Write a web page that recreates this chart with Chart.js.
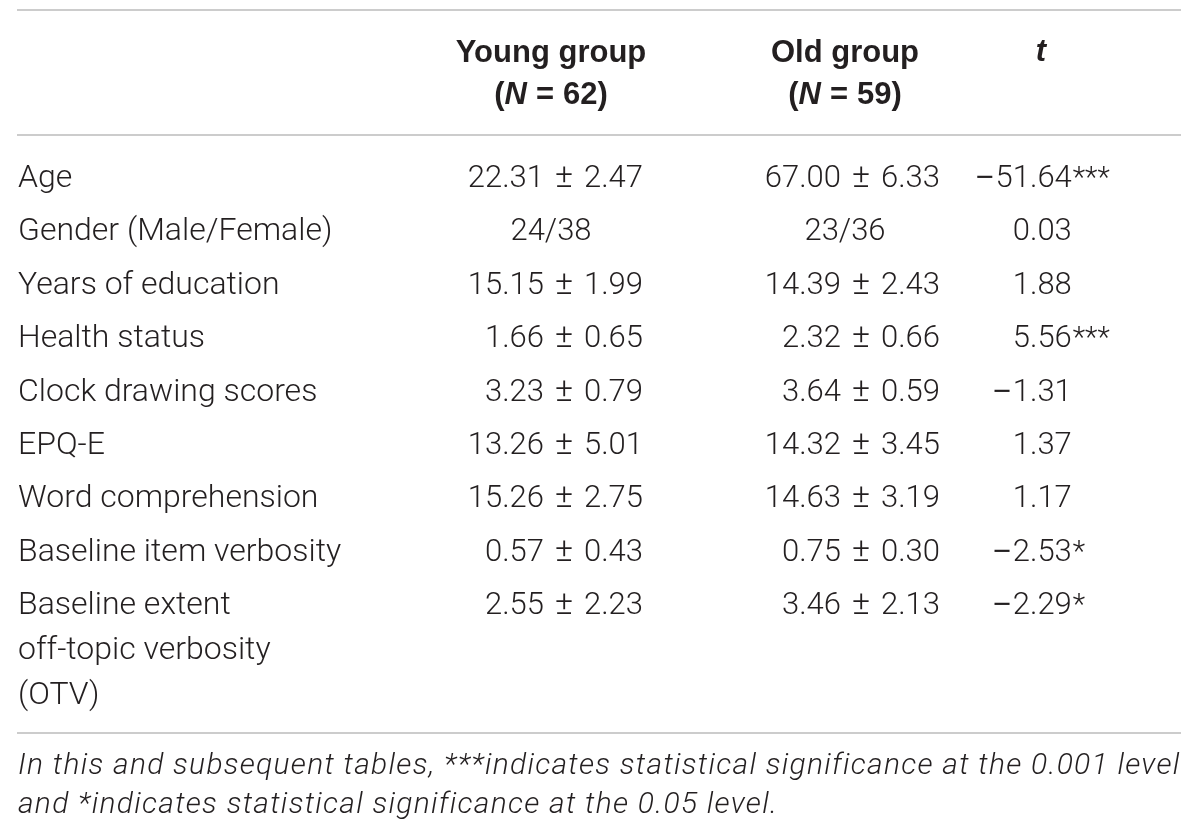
<!DOCTYPE html>
<html lang="en">
<head>
  <meta charset="UTF-8">
  <title>Young vs old group characteristics</title>
  <script src="https://cdn.jsdelivr.net/npm/chart.js"></script>
  <style>
    html, body { margin: 0; padding: 0; background: #fff; }
    #chart-container { width: 1200px; height: 836px; }
  </style>
</head>
<body>
  <div id="chart-container">
    <canvas id="myChart" width="1200" height="836"></canvas>
  </div>

  <script>
  // Table contents
  const variables = [
    'Age',
    'Gender (Male/Female)',
    'Years of education',
    'Health status',
    'Clock drawing scores',
    'EPQ-E',
    'Word comprehension',
    'Baseline item verbosity',
    ['Baseline extent', 'off-topic verbosity', '(OTV)']
  ];
  const youngGroup = ['22.31 ± 2.47', '24/38', '15.15 ± 1.99', '1.66 ± 0.65', '3.23 ± 0.79',
                      '13.26 ± 5.01', '15.26 ± 2.75', '0.57 ± 0.43', '2.55 ± 2.23'];
  const oldGroup = ['67.00 ± 6.33', '23/36', '14.39 ± 2.43', '2.32 ± 0.66', '3.64 ± 0.59',
                    '14.32 ± 3.45', '14.63 ± 3.19', '0.75 ± 0.30', '3.46 ± 2.13'];
  const tValues = ['−51.64', '0.03', '1.88', '5.56', '−1.31', '1.37', '1.17', '−2.53', '−2.29'];
  const tStars = ['***', '', '', '***', '', '', '', '*', '*'];
  const headYoung = ['Young group', 'N', '62'];
  const headOld = ['Old group', 'N', '59'];
  const headT = 't';
  const footnote = [
    'In this and subsequent tables, ***indicates statistical significance at the 0.001 level',
    'and *indicates statistical significance at the 0.05 level.'
  ];

  const textColor = '#231f20';
  const ruleColor = '#cccccc';
  const labelFont = '300 32px Roboto';
  const valueFont = '300 31px Roboto';
  const pmFont = '300 34px Roboto';
  const minusFont = '31px "Liberation Sans"';
  const starFont = '300 29px Roboto';
  const boldFont = 'bold 31px "Liberation Sans"';
  const boldItalic = 'italic bold 31px "Liberation Sans"';
  const noteFont = 'italic 300 30px Roboto';

  // draws the table cells at the row positions given by the y scale
  const tablePlugin = {
    id: 'tableText',
    afterDraw(chart, args, opts) {
      const ctx = chart.ctx;
      const y = chart.scales.y;
      const area = chart.chartArea;
      const col = opts.columns;
      ctx.save();
      ctx.fillStyle = textColor;
      ctx.textBaseline = 'alphabetic';
      ctx.textAlign = 'left';

      // rules
      ctx.strokeStyle = ruleColor;
      ctx.lineWidth = 2;
      [area.top - 177, area.top - 52, area.bottom + 119].forEach(ry => {
        ctx.beginPath();
        ctx.moveTo(opts.left, ry);
        ctx.lineTo(opts.right, ry);
        ctx.stroke();
      });

      // header: two lines, "(N = xx)" with italic N
      function headCell(parts, cx) {
        ctx.font = boldFont;
        ctx.textAlign = 'center';
        ctx.fillText(parts[0], cx, area.top - 125);
        ctx.textAlign = 'left';
        const pieces = [['(', boldFont], [parts[1], boldItalic], ['=', boldFont], [parts[2] + ')', boldFont]];
        const gap = opts.eqGap;
        const widths = pieces.map(([s, f]) => { ctx.font = f; return ctx.measureText(s).width; });
        const total = widths.reduce((a, b) => a + b, 0) + 2 * gap;
        let x0 = cx - total / 2;
        const by = area.top - 83;
        pieces.forEach(([s, f], k) => {
          ctx.font = f;
          ctx.fillText(s, x0, by);
          x0 += widths[k] + (k === 1 || k === 2 ? gap : 0);
        });
      }
      headCell(headYoung, col.youngCenter);
      headCell(headOld, col.oldCenter);
      ctx.font = boldItalic;
      ctx.textAlign = 'center';
      ctx.fillText(headT, col.tCenter, area.top - 126);
      ctx.textAlign = 'left';

      // "a ± b" drawn right-aligned, with a bigger ± and some room round it
      function pmCell(v, right, py) {
        const [a, b] = v.split(' ± ');
        ctx.font = valueFont;
        const wa = ctx.measureText(a).width;
        const wb = ctx.measureText(b).width;
        ctx.font = pmFont;
        const wp = ctx.measureText('±').width;
        let x0 = right - (wa + wp + wb + 2 * opts.pmGap);
        ctx.font = valueFont;
        ctx.fillText(a, x0, py);
        x0 += wa + opts.pmGap;
        ctx.font = pmFont;
        ctx.fillText('±', x0, py);
        x0 += wp + opts.pmGap;
        ctx.font = valueFont;
        ctx.fillText(b, x0, py);
      }

      variables.forEach((label, i) => {
        const py = y.getPixelForValue(i);
        const lines = Array.isArray(label) ? label : [label];
        ctx.font = labelFont;
        lines.forEach((ln, k) => ctx.fillText(ln, opts.left + 1, py + k * opts.wrapLine));

        [[youngGroup[i], col.youngCenter, col.youngRight], [oldGroup[i], col.oldCenter, col.oldRight]]
          .forEach(([v, c, r]) => {
            if (v.indexOf(' ± ') >= 0) {
              pmCell(v, r, py);
            } else {
              ctx.font = valueFont;
              ctx.textAlign = 'center';
              ctx.fillText(v, c, py);
              ctx.textAlign = 'left';
            }
          });

        // t: aligned on the decimal point, minus sign in front
        ctx.font = valueFont;
        const tv = tValues[i];
        const neg = tv[0] === '−';
        const num = neg ? tv.slice(1) : tv;
        const intPart = num.split('.')[0];
        const xi = col.tPoint - ctx.measureText(intPart).width;
        const wn = ctx.measureText(num).width;
        ctx.fillText(num, xi, py);
        if (neg) {
          ctx.font = minusFont;
          const wm = ctx.measureText('−').width;
          ctx.fillText('−', xi - wm - opts.minusGap, py);
        }
        if (tStars[i]) {
          ctx.font = starFont;
          ctx.fillText(tStars[i], xi + wn + 1, py);
        }
      });

      // footnote, first line spread to the table width
      ctx.font = noteFont;
      const natural = ctx.measureText(footnote[0]).width;
      const spacing = (opts.right - opts.left - 2 - natural) / footnote[0].length;
      if ('letterSpacing' in ctx) ctx.letterSpacing = spacing.toFixed(2) + 'px';
      footnote.forEach((ln, k) => ctx.fillText(ln, opts.left + 1, area.bottom + 160 + k * 39));
      if ('letterSpacing' in ctx) ctx.letterSpacing = '0px';
      ctx.restore();
    }
  };

  const config = {
    type: 'scatter',
    data: { datasets: [] },
    options: {
      responsive: false,
      animation: false,
      layout: { padding: { top: 187, bottom: 222, left: 0, right: 0 } },
      scales: {
        x: { type: 'linear', display: false, min: 0, max: 1200 },
        y: { type: 'category', labels: variables, offset: false, display: false }
      },
      plugins: {
        legend: { display: false },
        tooltip: { enabled: false },
        tableText: {
          left: 17,
          right: 1181,
          wrapLine: 45,
          pmGap: 11,
          eqGap: 9,
          minusGap: 2,
          columns: { youngCenter: 551, youngRight: 643, oldCenter: 845, oldRight: 940, tCenter: 1041, tPoint: 1030 }
        }
      }
    },
    plugins: [tablePlugin]
  };

  let chart;
  window.onload = function() {
    chart = new Chart(document.getElementById('myChart'), config);
  };
  </script>
</body>
</html>
